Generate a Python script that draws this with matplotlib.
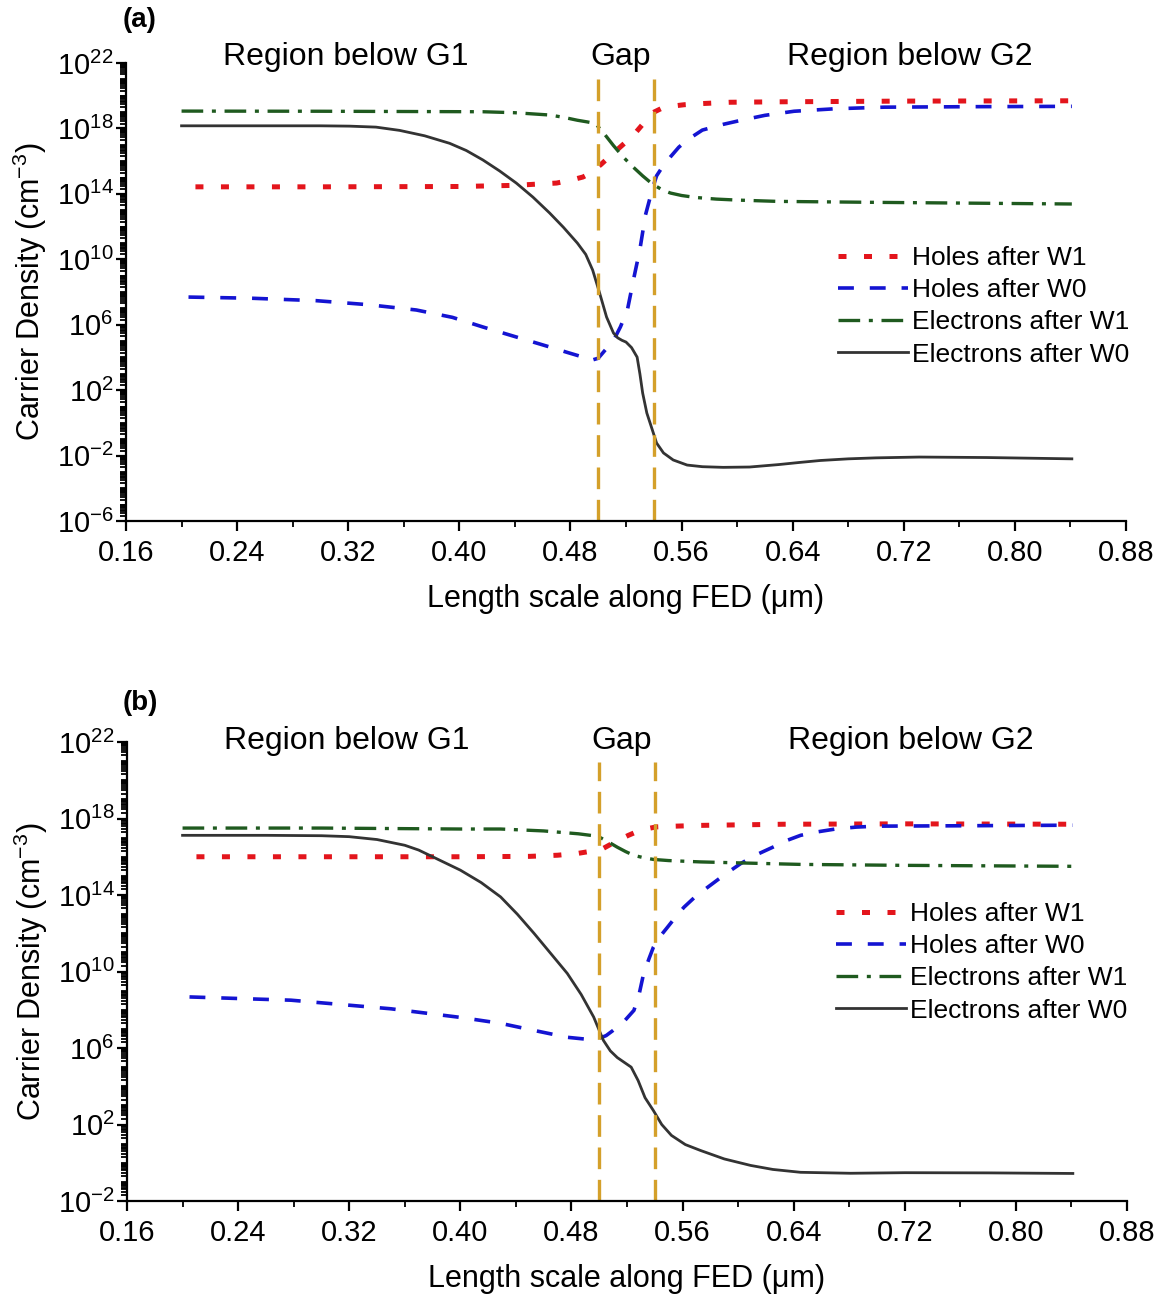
import numpy as np
import matplotlib
matplotlib.use("Agg")
import matplotlib.pyplot as plt
from matplotlib.ticker import FixedLocator, LogLocator, LogFormatterSciNotation, MultipleLocator, FormatStrFormatter
from matplotlib.transforms import blended_transform_factory

plt.rcParams['font.family'] = ['Liberation Sans', 'DejaVu Sans']
plt.rcParams['mathtext.fontset'] = 'custom'
plt.rcParams['mathtext.rm'] = 'Liberation Sans'
plt.rcParams['mathtext.it'] = 'Liberation Sans:italic'
plt.rcParams['mathtext.bf'] = 'Liberation Sans:bold'

# ---------------- panel (a): log10 of carrier density ----------------
a_holes_w1_x = [0.21, 0.30, 0.40, 0.44, 0.47, 0.48, 0.489, 0.494, 0.502, 0.511, 0.519, 0.527, 0.534,
                0.539, 0.545, 0.552, 0.562, 0.575, 0.595, 0.634, 0.72, 0.841]
a_holes_w1_log = [14.43, 14.43, 14.45, 14.52, 14.66, 14.83, 15.03, 15.25, 15.8, 16.5, 17.1, 17.75, 18.45,
                  18.95, 19.2, 19.35, 19.45, 19.52, 19.6, 19.63, 19.67, 19.69]

a_holes_w0_x = [0.205, 0.25, 0.297, 0.335, 0.369, 0.395, 0.417, 0.441, 0.465, 0.478, 0.489, 0.494, 0.500,
                0.506, 0.512, 0.516, 0.521, 0.526, 0.530, 0.534, 0.539, 0.542, 0.547, 0.552, 0.558, 0.564,
                0.575, 0.590, 0.603, 0.62, 0.641, 0.67, 0.706, 0.77, 0.841]
a_holes_w0_log = [7.69, 7.62, 7.47, 7.22, 6.9, 6.45, 5.86, 5.25, 4.64, 4.3, 4.02, 3.8, 3.95,
                  4.55, 5.2, 5.87, 6.9, 9.0, 10.6, 12.7, 14.3, 15.1, 15.75, 16.26, 16.85, 17.29,
                  17.9, 18.25, 18.5, 18.8, 19.05, 19.2, 19.3, 19.33, 19.35]

a_elec_w1_x = [0.20, 0.30, 0.417, 0.44, 0.465, 0.475, 0.485, 0.492, 0.498, 0.505, 0.511, 0.518, 0.525,
               0.532, 0.539, 0.546, 0.552, 0.56, 0.57, 0.585, 0.60, 0.629, 0.70, 0.757, 0.841]
a_elec_w1_log = [19.06, 19.05, 19.02, 18.96, 18.82, 18.68, 18.5, 18.4, 18.3, 17.6, 16.95, 16.25, 15.65,
                 15.1, 14.6, 14.25, 14.05, 13.9, 13.78, 13.68, 13.62, 13.54, 13.48, 13.44, 13.38]

a_elec_w0_x = [0.20, 0.26, 0.30, 0.321, 0.34, 0.357, 0.375, 0.393, 0.405, 0.417, 0.429, 0.441, 0.453,
               0.465, 0.475, 0.485, 0.491, 0.496, 0.501, 0.506, 0.511, 0.514, 0.517, 0.520, 0.524, 0.528,
               0.530, 0.532, 0.535, 0.539, 0.542, 0.547, 0.554, 0.564, 0.575, 0.59, 0.609, 0.63, 0.645,
               0.66, 0.68, 0.70, 0.731, 0.78, 0.841]
a_elec_w0_log = [18.16, 18.16, 18.16, 18.14, 18.08, 17.88, 17.55, 17.09, 16.65, 16.07, 15.4, 14.66, 13.8,
                 12.83, 11.95, 10.99, 10.3, 9.34, 7.94, 6.47, 5.49, 5.2, 5.05, 4.94, 4.6, 4.02,
                 3.0, 1.82, 0.6, -0.44, -1.23, -1.84, -2.27, -2.58, -2.68, -2.72, -2.70, -2.55, -2.42,
                 -2.3, -2.2, -2.14, -2.09, -2.12, -2.2]

# ---------------- panel (b) ----------------
b_holes_w1_x = [0.21, 0.30, 0.40, 0.45, 0.47, 0.485, 0.495, 0.503, 0.512, 0.521, 0.530, 0.541, 0.555,
                0.573, 0.633, 0.72, 0.841]
b_holes_w1_log = [16.0, 16.0, 16.0, 16.02, 16.08, 16.18, 16.3, 16.44, 16.8, 17.12, 17.4, 17.56, 17.6,
                  17.64, 17.7, 17.72, 17.7]

b_holes_w0_x = [0.205, 0.278, 0.35, 0.40, 0.429, 0.453, 0.477, 0.492, 0.500, 0.505, 0.510, 0.518, 0.525,
                0.529, 0.532, 0.536, 0.539, 0.544, 0.549, 0.555, 0.561, 0.569, 0.578, 0.59, 0.602, 0.613,
                0.625, 0.635, 0.645, 0.657, 0.67, 0.685, 0.70, 0.76, 0.841]
b_holes_w0_log = [8.67, 8.5, 8.05, 7.6, 7.29, 6.92, 6.56, 6.45, 6.5, 6.65, 6.92, 7.4, 7.97,
                  8.9, 9.9, 10.7, 11.27, 11.85, 12.3, 12.85, 13.36, 13.9, 14.4, 15.05, 15.65, 16.1,
                  16.5, 16.85, 17.12, 17.3, 17.45, 17.55, 17.6, 17.62, 17.65]

b_elec_w1_x = [0.20, 0.30, 0.40, 0.429, 0.46, 0.485, 0.499, 0.506, 0.513, 0.519, 0.525, 0.532, 0.539,
               0.55, 0.573, 0.60, 0.645, 0.72, 0.841]
b_elec_w1_log = [17.5, 17.5, 17.45, 17.45, 17.35, 17.2, 17.07, 16.8, 16.5, 16.27, 16.07, 15.95, 15.86,
                 15.8, 15.73, 15.68, 15.6, 15.55, 15.5]

b_elec_w0_x = [0.20, 0.26, 0.30, 0.32, 0.34, 0.36, 0.37, 0.38, 0.39, 0.40, 0.415, 0.429, 0.441, 0.453,
               0.465, 0.477, 0.487, 0.496, 0.503, 0.508, 0.513, 0.518, 0.523, 0.528, 0.533, 0.539, 0.545,
               0.552, 0.562, 0.573, 0.590, 0.609, 0.625, 0.645, 0.681, 0.72, 0.78, 0.841]
b_elec_w0_log = [17.12, 17.12, 17.1, 17.05, 16.9, 16.6, 16.35, 16.0, 15.65, 15.3, 14.65, 13.9, 13.0, 12.0,
                 10.95, 9.9, 8.8, 7.62, 6.4, 5.85, 5.5, 5.25, 5.0, 4.3, 3.4, 2.73, 2.0,
                 1.43, 0.95, 0.64, 0.2, -0.14, -0.35, -0.5, -0.55, -0.52, -0.53, -0.56]

gap_edges = [0.50, 0.54]
x_ticks = [0.16, 0.24, 0.32, 0.40, 0.48, 0.56, 0.64, 0.72, 0.80, 0.88]
labels = ["Holes after W1", "Holes after W0", "Electrons after W1", "Electrons after W0"]
region_labels = ["Region below G1", "Gap", "Region below G2"]
region_x = [0.318, 0.516, 0.724]

styles = [
    dict(color='#E3151C', lw=3.6, dashes=(1.6, 3.5), dash_capstyle='butt'),
    dict(color='#1414D2', lw=2.6, dashes=(4.4, 4.4)),
    dict(color='#1F5A1F', lw=2.4, dashes=(6.5, 2.6, 1.2, 2.6)),
    dict(color='#333333', lw=2.0, linestyle='-'),
]

W, H = 1163, 1302
fig = plt.figure(figsize=(W / 100, H / 100), dpi=100)


def px_axes(left, top, right, bottom):
    return fig.add_axes([left / W, 1 - bottom / H, (right - left) / W, (bottom - top) / H])


def draw_panel(ax, series, ylo, yhi, tag, tag_y, gap_top, text_y, legend_xy):
    for (xs, ls), st, lab in zip(series, styles, labels):
        ax.plot(xs, np.power(10.0, ls), label=lab, **st)
    for g in gap_edges:
        ax.axvline(g, ymin=0, ymax=gap_top, color='#D4A02A', lw=2.4, dashes=(6.5, 3.2))
    ax.set_yscale('log')
    ax.set_ylim(ylo, yhi)
    ax.set_xlim(0.16, 0.88)
    ax.xaxis.set_major_locator(FixedLocator(x_ticks))
    ax.xaxis.set_minor_locator(MultipleLocator(0.04))
    ax.xaxis.set_major_formatter(FormatStrFormatter('%.2f'))
    exps = np.arange(int(np.log10(ylo)), int(np.log10(yhi)) + 1, 4)
    ax.yaxis.set_major_locator(FixedLocator(10.0 ** exps))
    ax.yaxis.set_major_formatter(LogFormatterSciNotation())
    ax.yaxis.set_minor_locator(LogLocator(base=10, subs=np.arange(1, 10), numticks=200))
    ax.yaxis.set_minor_formatter(plt.NullFormatter())
    for s in ['top', 'right']:
        ax.spines[s].set_visible(False)
    for s in ['left', 'bottom']:
        ax.spines[s].set_linewidth(1.6)
    ax.tick_params(axis='both', which='major', direction='out', length=7, width=1.6,
                   labelsize=21)
    ax.tick_params(axis='x', which='major', pad=6)
    ax.tick_params(axis='y', which='major', pad=2)
    ax.tick_params(axis='both', which='minor', direction='out', length=4, width=1.3)
    ax.set_xlabel("Length scale along FED (\u03bcm)", fontsize=22, labelpad=12)
    ax.set_ylabel("Carrier Density (cm$^{-3}$)", fontsize=22)
    ax.yaxis.set_label_coords(-0.077, 0.5)
    tr = blended_transform_factory(ax.transData, ax.transAxes)
    for t, xx in zip(region_labels, region_x):
        ax.text(xx, text_y, t, transform=tr, ha='center', va='center', fontsize=23)
    fig.text(140 / W, 1 - tag_y / H, tag, fontsize=20, fontweight='bold', ha='center', va='center')
    ax.legend(loc='upper left', bbox_to_anchor=(legend_xy[0] / W, 1 - legend_xy[1] / H),
              bbox_transform=fig.transFigure, frameon=False, fontsize=19, handlelength=2.65,
              handletextpad=0.15, labelspacing=0.31, borderpad=0, borderaxespad=0)


ax_a = px_axes(126, 63, 1126, 521)
draw_panel(ax_a,
           [(a_holes_w1_x, a_holes_w1_log), (a_holes_w0_x, a_holes_w0_log),
            (a_elec_w1_x, a_elec_w1_log), (a_elec_w0_x, a_elec_w0_log)],
           1e-6, 1e22, '(a)', 20, 0.967, 1.013, (838, 246))

ax_b = px_axes(127, 742, 1127, 1201)
draw_panel(ax_b,
           [(b_holes_w1_x, b_holes_w1_log), (b_holes_w0_x, b_holes_w0_log),
            (b_elec_w1_x, b_elec_w1_log), (b_elec_w0_x, b_elec_w0_log)],
           1e-2, 1e22, '(b)', 703, 0.956, 1.002, (836, 902))

fig.savefig('out.png', dpi=100)
